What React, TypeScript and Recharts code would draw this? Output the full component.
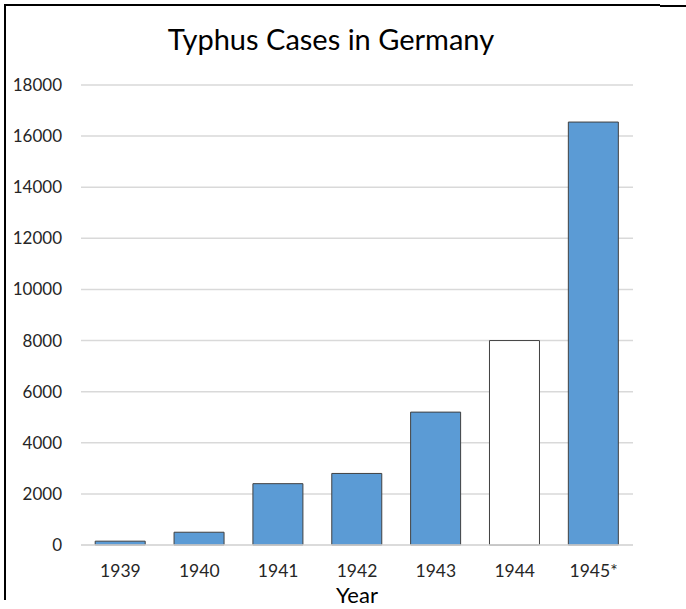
import React from "react";
import { BarChart, Bar, XAxis, YAxis, CartesianGrid, Cell } from "recharts";

const years = ["1939", "1940", "1941", "1942", "1943", "1944", "1945*"];
const cases = [150, 500, 2400, 2800, 5200, 8000, 16550];
const fills = ["#5B9BD5", "#5B9BD5", "#5B9BD5", "#5B9BD5", "#5B9BD5", "#FFFFFF", "#5B9BD5"];
const yTicks = [0, 2000, 4000, 6000, 8000, 10000, 12000, 14000, 16000, 18000];

const data = years.map((y, i) => ({ year: y, cases: cases[i] }));

const FONT = "Lato, 'Open Sans', sans-serif";

export default function App() {
  return (
    <div style={{ position: "absolute", left: 0, top: 0, width: 686, height: 609, background: "#fff", fontFamily: FONT }}>
      <div style={{ position: "absolute", left: 4, top: 4, width: 1.5, height: 596, background: "#000" }} />
      <div style={{ position: "absolute", left: 4, top: 4, width: 656, height: 1.5, background: "#000" }} />
      <div style={{ position: "absolute", left: 660, top: 5, width: 26, height: 2, background: "#000" }} />
      <div style={{ position: "absolute", left: 0, top: 21, width: 662, textAlign: "center", fontSize: 29, color: "#000" }}>
        Typhus Cases in Germany
      </div>
      <BarChart
        width={686}
        height={609}
        data={data}
        margin={{ top: 85, right: 53, bottom: 0, left: 0 }}
        barCategoryGap="18%"
        style={{ position: "absolute", left: 0, top: 0 }}
      >
        <CartesianGrid vertical={false} stroke="#D9D9D9" strokeWidth={1.5} />
        <XAxis
          dataKey="year"
          height={64}
          tickLine={false}
          tickSize={0}
          tickMargin={20}
          axisLine={{ stroke: "#D9D9D9", strokeWidth: 1.5 }}
          tick={{ fill: "#262626", fontSize: 17.5, fontFamily: FONT }}
          interval={0}
        />
        <YAxis
          width={81}
          domain={[0, 18000]}
          ticks={yTicks}
          interval={0}
          axisLine={false}
          tickLine={false}
          tickSize={0}
          tickMargin={19}
          tick={{ fill: "#262626", fontSize: 17, fontFamily: FONT }}
        />
        <Bar dataKey="cases" isAnimationActive={false} stroke="#404040" strokeWidth={1}>
          {data.map((d, i) => (
            <Cell key={d.year} fill={fills[i]} />
          ))}
        </Bar>
      </BarChart>
      <div style={{ position: "absolute", left: 257, top: 584, width: 200, textAlign: "center", fontSize: 22, lineHeight: "22px", color: "#000" }}>
        Year
      </div>
    </div>
  );
}
